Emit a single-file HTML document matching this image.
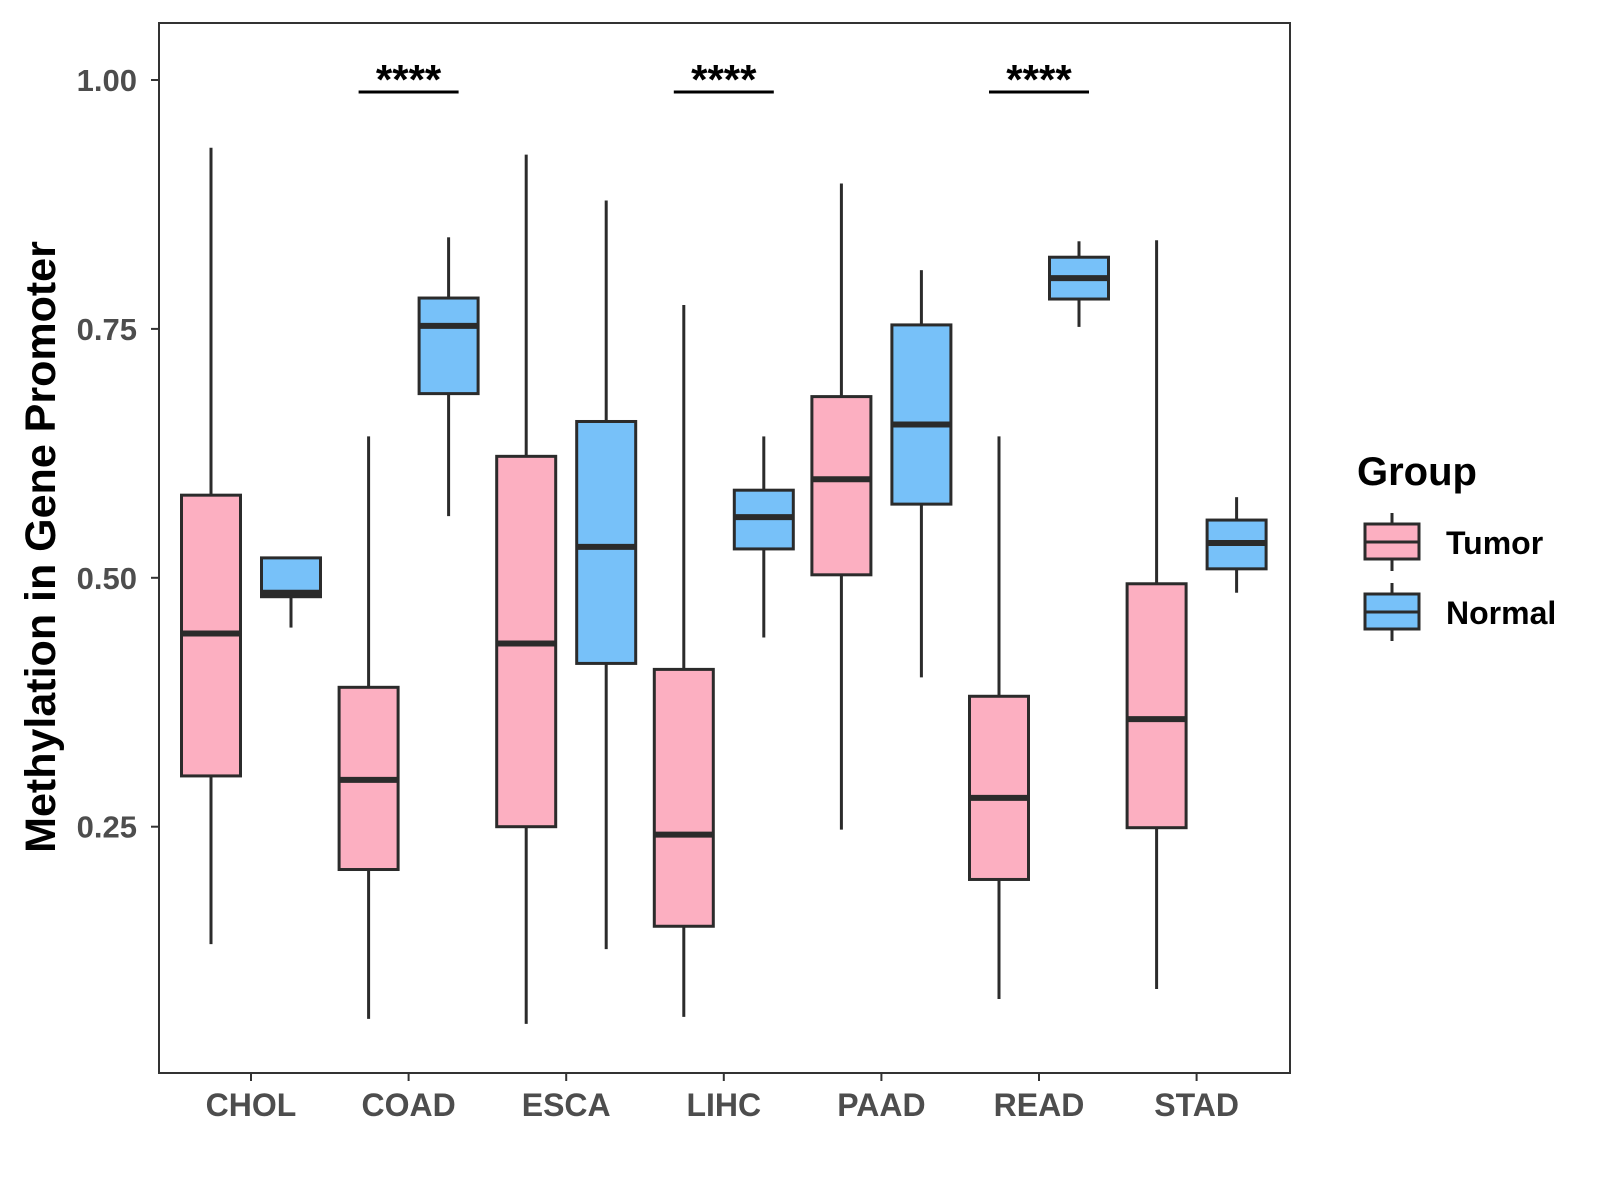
<!DOCTYPE html>
<html><head><meta charset="utf-8"><style>
html,body{margin:0;padding:0;background:#fff;}
svg{display:block;font-family:"Liberation Sans",Arial,sans-serif;}
</style></head><body>
<svg id="chart" width="1600" height="1200" viewBox="0 0 1600 1200">
<rect x="0" y="0" width="1600" height="1200" fill="#fff"/>
<g id="marks"></g>
<rect x="159" y="23" width="1131" height="1050" fill="none" stroke="#333" stroke-width="2"/>
<g id="axes"></g>
<text x="55" y="547" transform="rotate(-90 55 547)" text-anchor="middle" font-size="43" font-weight="bold" fill="#000">Methylation in Gene Promoter</text>
<g>
<text x="1357" y="485" font-size="40" font-weight="bold" fill="#000">Group</text>
<g>
<line x1="1392" y1="513" x2="1392" y2="571" stroke="#2b2b2b" stroke-width="3"/>
<rect x="1365" y="524" width="54" height="35" fill="#FCAFC1" stroke="#2b2b2b" stroke-width="3"/>
<line x1="1365" y1="542" x2="1419" y2="542" stroke="#2b2b2b" stroke-width="3"/>
<text x="1446" y="554" font-size="32" font-weight="bold" fill="#000">Tumor</text>
</g>
<g>
<line x1="1392" y1="583" x2="1392" y2="641" stroke="#2b2b2b" stroke-width="3"/>
<rect x="1365" y="594" width="54" height="35" fill="#77C1F9" stroke="#2b2b2b" stroke-width="3"/>
<line x1="1365" y1="612" x2="1419" y2="612" stroke="#2b2b2b" stroke-width="3"/>
<text x="1446" y="624" font-size="32" font-weight="bold" fill="#000">Normal</text>
</g>
</g>
</svg>
<script>
const categories = ["CHOL","COAD","ESCA","LIHC","PAAD","READ","STAD"];
// [whiskerLow, q1, median, q3, whiskerHigh]
const tumorStats = [
 [0.132,0.301,0.444,0.583,0.932],
 [0.057,0.207,0.297,0.390,0.642],
 [0.052,0.250,0.434,0.622,0.925],
 [0.059,0.150,0.242,0.408,0.774],
 [0.247,0.503,0.599,0.682,0.896],
 [0.077,0.197,0.279,0.381,0.642],
 [0.087,0.249,0.358,0.494,0.839]
];
const normalStats = [
 [0.450,0.481,0.485,0.520,0.520],
 [0.562,0.685,0.753,0.781,0.842],
 [0.127,0.414,0.531,0.657,0.879],
 [0.440,0.529,0.561,0.588,0.642],
 [0.400,0.574,0.654,0.754,0.809],
 [0.752,0.780,0.801,0.822,0.838],
 [0.485,0.509,0.535,0.558,0.581]
];
const yTicks = [0.25,0.50,0.75,1.00];
const yTickLabels = ["0.25","0.50","0.75","1.00"];
const sigCategories = ["COAD","LIHC","READ"];
const sigLabels = ["****","****","****"];
const sigLevel = 0.988;

const NS="http://www.w3.org/2000/svg";
function y(v){return 80+(1-v)*995.6;}
function x(i){return 251+i*157.6;}
function mk(tag,attrs,parent){const e=document.createElementNS(NS,tag);for(const k in attrs)e.setAttribute(k,attrs[k]);parent.appendChild(e);return e;}
const marks=document.getElementById('marks'), axes=document.getElementById('axes');
const C="#2b2b2b";
function box(cx,s,fill,name){
  const g=mk('g',{},marks);
  
  
  mk('line',{x1:cx,x2:cx,y1:y(s[4]),y2:y(s[3]),stroke:C,'stroke-width':3},g);
  mk('line',{x1:cx,x2:cx,y1:y(s[1]),y2:y(s[0]),stroke:C,'stroke-width':3},g);
  mk('rect',{x:cx-29.5,y:y(s[3]),width:59,height:y(s[1])-y(s[3]),fill:fill,stroke:C,'stroke-width':3},g);
  mk('line',{x1:cx-29.5,x2:cx+29.5,y1:y(s[2]),y2:y(s[2]),stroke:C,'stroke-width':6},g);
}
categories.forEach((c,i)=>{
  box(x(i)-40,tumorStats[i],"#FCAFC1","box-"+c.toLowerCase()+"-tumor");
  box(x(i)+40,normalStats[i],"#77C1F9","box-"+c.toLowerCase()+"-normal");
  const t=mk('line',{x1:x(i),x2:x(i),y1:1073,y2:1081,stroke:"#333",'stroke-width':2},axes);
  
  
  const l=mk('text',{x:x(i),y:1116,'text-anchor':'middle','font-size':32,'font-weight':'bold',fill:'#4d4d4d'},axes);
  
  
  l.textContent=c;
});
yTicks.forEach((v,i)=>{
  const t=mk('line',{x1:151,x2:159,y1:y(v),y2:y(v),stroke:"#333",'stroke-width':2},axes);
  
  
  const l=mk('text',{x:137,y:y(v)+11,'text-anchor':'end','font-size':31,'font-weight':'bold',fill:'#4d4d4d'},axes);
  
  
  l.textContent=yTickLabels[i];
});
sigCategories.forEach((c,k)=>{
  const i=categories.indexOf(c);
  const ln=mk('line',{x1:x(i)-50,x2:x(i)+50,y1:y(sigLevel),y2:y(sigLevel),stroke:'#000','stroke-width':3},marks);
  
  
  const t=mk('text',{x:x(i),y:y(sigLevel)+2,'text-anchor':'middle','font-size':42,'font-weight':'bold',fill:'#000'},marks);
  
  
  t.textContent=sigLabels[k];
});
</script>
</body></html>
